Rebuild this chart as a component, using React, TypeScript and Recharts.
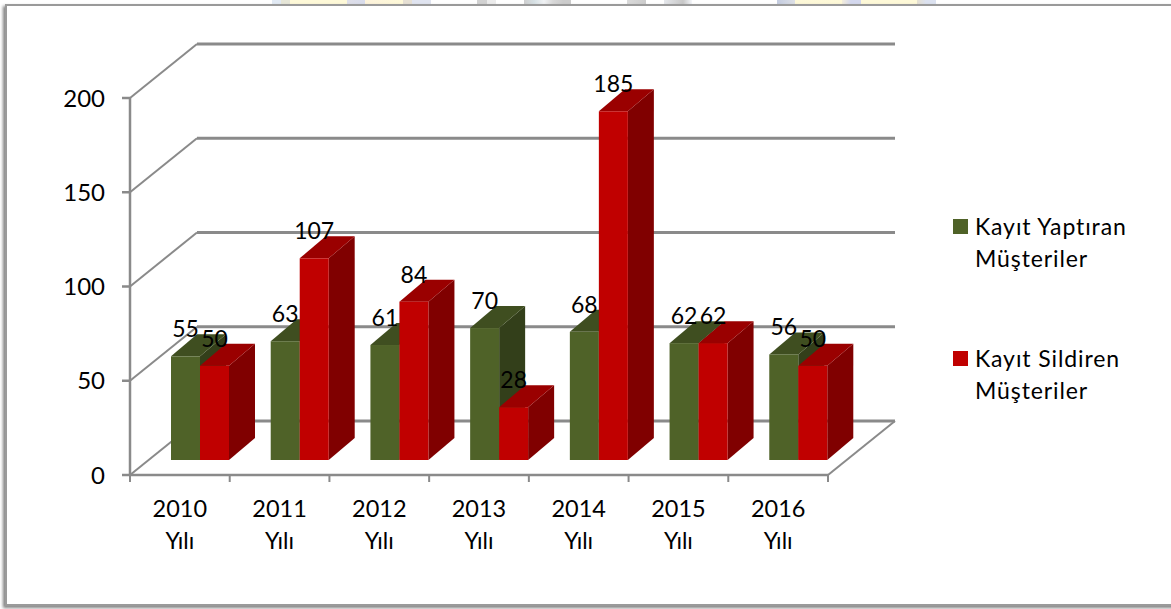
import * as React from "react";
import { Bar, BarChart, CartesianGrid, LabelList, Legend, XAxis, YAxis } from "recharts";

const CATEGORIES = ["2010 Yılı", "2011 Yılı", "2012 Yılı", "2013 Yılı", "2014 Yılı", "2015 Yılı", "2016 Yılı"];
const YAPTIRAN = [55, 63, 61, 70, 68, 62, 56];
const SILDIREN = [50, 107, 84, 28, 185, 62, 50];
const Y_TICKS = [0, 50, 100, 150, 200];

const WIDTH = 1171;
const HEIGHT = 609;
const PLOT_LEFT = 130;
const PLOT_RIGHT = 343;
const PLOT_TOP = 98;
const PLOT_BOTTOM = 134;
const AXIS_Y = HEIGHT - PLOT_BOTTOM;
const FONT = "Lato, sans-serif";
const AXIS_GRAY = "#8a8a8a";

// depth of the fake 3d walls and of the bars themselves
const WALL_DX = 67;
const WALL_DY = -54;
const BAR_DX = 26;
const BAR_DY = -22;
// bars stand a little behind the front edge of the floor
const BAR_SHIFT_X = 20;
const BAR_SHIFT_Y = -15;

const GREEN = "#4f6228";
const RED = "#c00000";
const SHADES: Record<string, { top: string; side: string }> = {
  [GREEN]: { top: "#3f4e20", side: "#333f1a" },
  [RED]: { top: "#9a0000", side: "#800000" },
};

// scraps of the page behind the chart, showing above the frame
const STRIP =
  "linear-gradient(to right, #fff 272px, #e2eaf4 272px, #e2eaf4 281px, #e6e6d8 281px, #e6e6d8 290px, #fef9d8 290px, #fef9d8 347px, #dfdfe8 347px, #d8dcec 365px, #fdf3dc 365px, #fef9d8 403px, #e6e0d4 403px, #e6e0d4 412px, #e0e4f0 412px, #e0e4f0 431px, #fff 431px, #fff 477px, #d2d2d2 477px, #d2d2d2 487px, #ececec 487px, #ececec 496px, #fff 496px, #fff 524px, #cfcfcf 524px, #d6e0e4 534px, #f0f2f4 544px, #d8d8d8 553px, #cccccc 563px, #cccccc 571px, #fff 571px, #fff 627px, #dadada 627px, #cccccc 646px, #fff 646px, #fff 664px, #e6e8ec 664px, #c8c8c8 683px, #f4f6fa 692px, #fff 692px, #fff 777px, #c4cce0 777px, #dde0e6 795px, #fdf8d8 795px, #fef9d8 842px, #f4eedc 842px, #d4d8ee 851px, #d4d8ee 861px, #fef9d8 861px, #fef9d8 917px, #e6e0d0 917px, #dce2f0 926px, #dce2f0 936px, #fff 936px)";

const tableData = CATEGORIES.map((name, i) => ({
  name,
  yaptiran: YAPTIRAN[i],
  sildiren: SILDIREN[i],
}));

function WallLine(props: any) {
  const { x1, x2, y1, y2, index } = props;
  const isFloor = Math.abs(y1 - AXIS_Y) < 1;
  return (
    <g key={index}>
      <line x1={x1} y1={y1} x2={x1 + WALL_DX} y2={y1 + WALL_DY} stroke={AXIS_GRAY} strokeWidth={2} />
      <line
        x1={x1 + WALL_DX}
        y1={y1 + WALL_DY}
        x2={x2 + WALL_DX}
        y2={y2 + WALL_DY}
        stroke={AXIS_GRAY}
        strokeWidth={3}
      />
      {isFloor && (
        <line x1={x2} y1={y2} x2={x2 + WALL_DX} y2={y2 + WALL_DY} stroke={AXIS_GRAY} strokeWidth={2} />
      )}
    </g>
  );
}

function Bar3D(props: any) {
  const { x, y, width, height, fill } = props;
  const left = x + BAR_SHIFT_X;
  const right = left + width;
  const top = y + BAR_SHIFT_Y;
  const bottom = top + height;
  const shade = SHADES[fill];
  return (
    <g>
      <polygon
        points={`${right},${top} ${right + BAR_DX},${top + BAR_DY} ${right + BAR_DX},${bottom + BAR_DY} ${right},${bottom}`}
        fill={shade.side}
      />
      <polygon
        points={`${left},${top} ${left + BAR_DX},${top + BAR_DY} ${right + BAR_DX},${top + BAR_DY} ${right},${top}`}
        fill={shade.top}
      />
      <rect x={left} y={top} width={width} height={height} fill={fill} />
    </g>
  );
}

function BarValue(props: any) {
  const { x, y, width, value } = props;
  return (
    <text
      x={x + BAR_SHIFT_X + width / 2}
      y={y + BAR_SHIFT_Y - 19}
      textAnchor="middle"
      fontFamily={FONT}
      fontSize={23}
      fill="#000"
    >
      {value}
    </text>
  );
}

function CategoryTick(props: any) {
  const { x, y, payload, index } = props;
  const band = (WIDTH - PLOT_LEFT - PLOT_RIGHT) / CATEGORIES.length;
  const [year, suffix] = String(payload.value).split(" ");
  return (
    <g>
      <line x1={x + band / 2} y1={y} x2={x + band / 2} y2={y + 7} stroke={AXIS_GRAY} strokeWidth={2} />
      {index === 0 && (
        <line x1={x - band / 2} y1={y} x2={x - band / 2} y2={y + 7} stroke={AXIS_GRAY} strokeWidth={2} />
      )}
      <text x={x} y={y + 42} textAnchor="middle" fontFamily={FONT} fontSize={23.5} fill="#000">
        {year}
      </text>
      <text x={x} y={y + 74} textAnchor="middle" fontFamily={FONT} fontSize={23} fill="#000">
        {suffix}
      </text>
    </g>
  );
}

function SideLegend(props: any) {
  return (
    <div style={{ fontFamily: FONT, fontSize: 23, lineHeight: "32px", color: "#000" }}>
      {props.payload.map((entry: any) => (
        <div key={entry.value} style={{ display: "flex", alignItems: "flex-start", height: 132 }}>
          <div style={{ width: 15, height: 15, marginTop: 9, marginRight: 7, flex: "none", background: entry.color }} />
          <div style={{ width: 170, letterSpacing: 0.9 }}>{entry.value}</div>
        </div>
      ))}
    </div>
  );
}

export default function App() {
  return (
    <div style={{ position: "absolute", left: 0, top: 0, width: WIDTH, height: HEIGHT, overflow: "hidden", background: "#fff" }}>
      <div style={{ position: "absolute", left: 0, top: 0, width: WIDTH, height: 5, background: STRIP }} />
      <div
        style={{
          position: "absolute",
          left: 5,
          top: 4,
          width: WIDTH + 20,
          height: 602,
          boxSizing: "border-box",
          border: "2px solid #9a9a9a",
          boxShadow: "-2px 2px 3px #808080",
        }}
      />
      <div style={{ position: "absolute", left: 0, top: 0 }}>
        <BarChart
          width={WIDTH}
          height={HEIGHT}
          data={tableData}
          margin={{ top: PLOT_TOP, right: PLOT_RIGHT, bottom: 0, left: 0 }}
          barCategoryGap={21}
          barGap={0}
          style={{ background: "transparent" }}
        >
          <CartesianGrid vertical={false} horizontal={WallLine} />
          <XAxis
            dataKey="name"
            interval={0}
            height={PLOT_BOTTOM}
            tickLine={false}
            tickSize={0}
            tickMargin={0}
            stroke={AXIS_GRAY}
            strokeWidth={2.5}
            tick={CategoryTick}
          />
          <YAxis
            domain={[0, 200]}
            ticks={Y_TICKS}
            width={PLOT_LEFT}
            tickSize={8}
            tickMargin={17}
            stroke={AXIS_GRAY}
            strokeWidth={2.5}
            tick={{ fontFamily: FONT, fontSize: 24, fill: "#000" }}
          />
          <Legend
            layout="horizontal"
            verticalAlign="middle"
            itemSorter={null}
            wrapperStyle={{ left: 953, top: 210, width: 200 }}
            content={SideLegend}
          />
          <Bar dataKey="yaptiran" name="Kayıt Yaptıran Müşteriler" fill={GREEN} shape={Bar3D} isAnimationActive={false}>
            <LabelList dataKey="yaptiran" content={BarValue} />
          </Bar>
          <Bar dataKey="sildiren" name="Kayıt Sildiren Müşteriler" fill={RED} shape={Bar3D} isAnimationActive={false}>
            <LabelList dataKey="sildiren" content={BarValue} />
          </Bar>
        </BarChart>
      </div>
    </div>
  );
}
